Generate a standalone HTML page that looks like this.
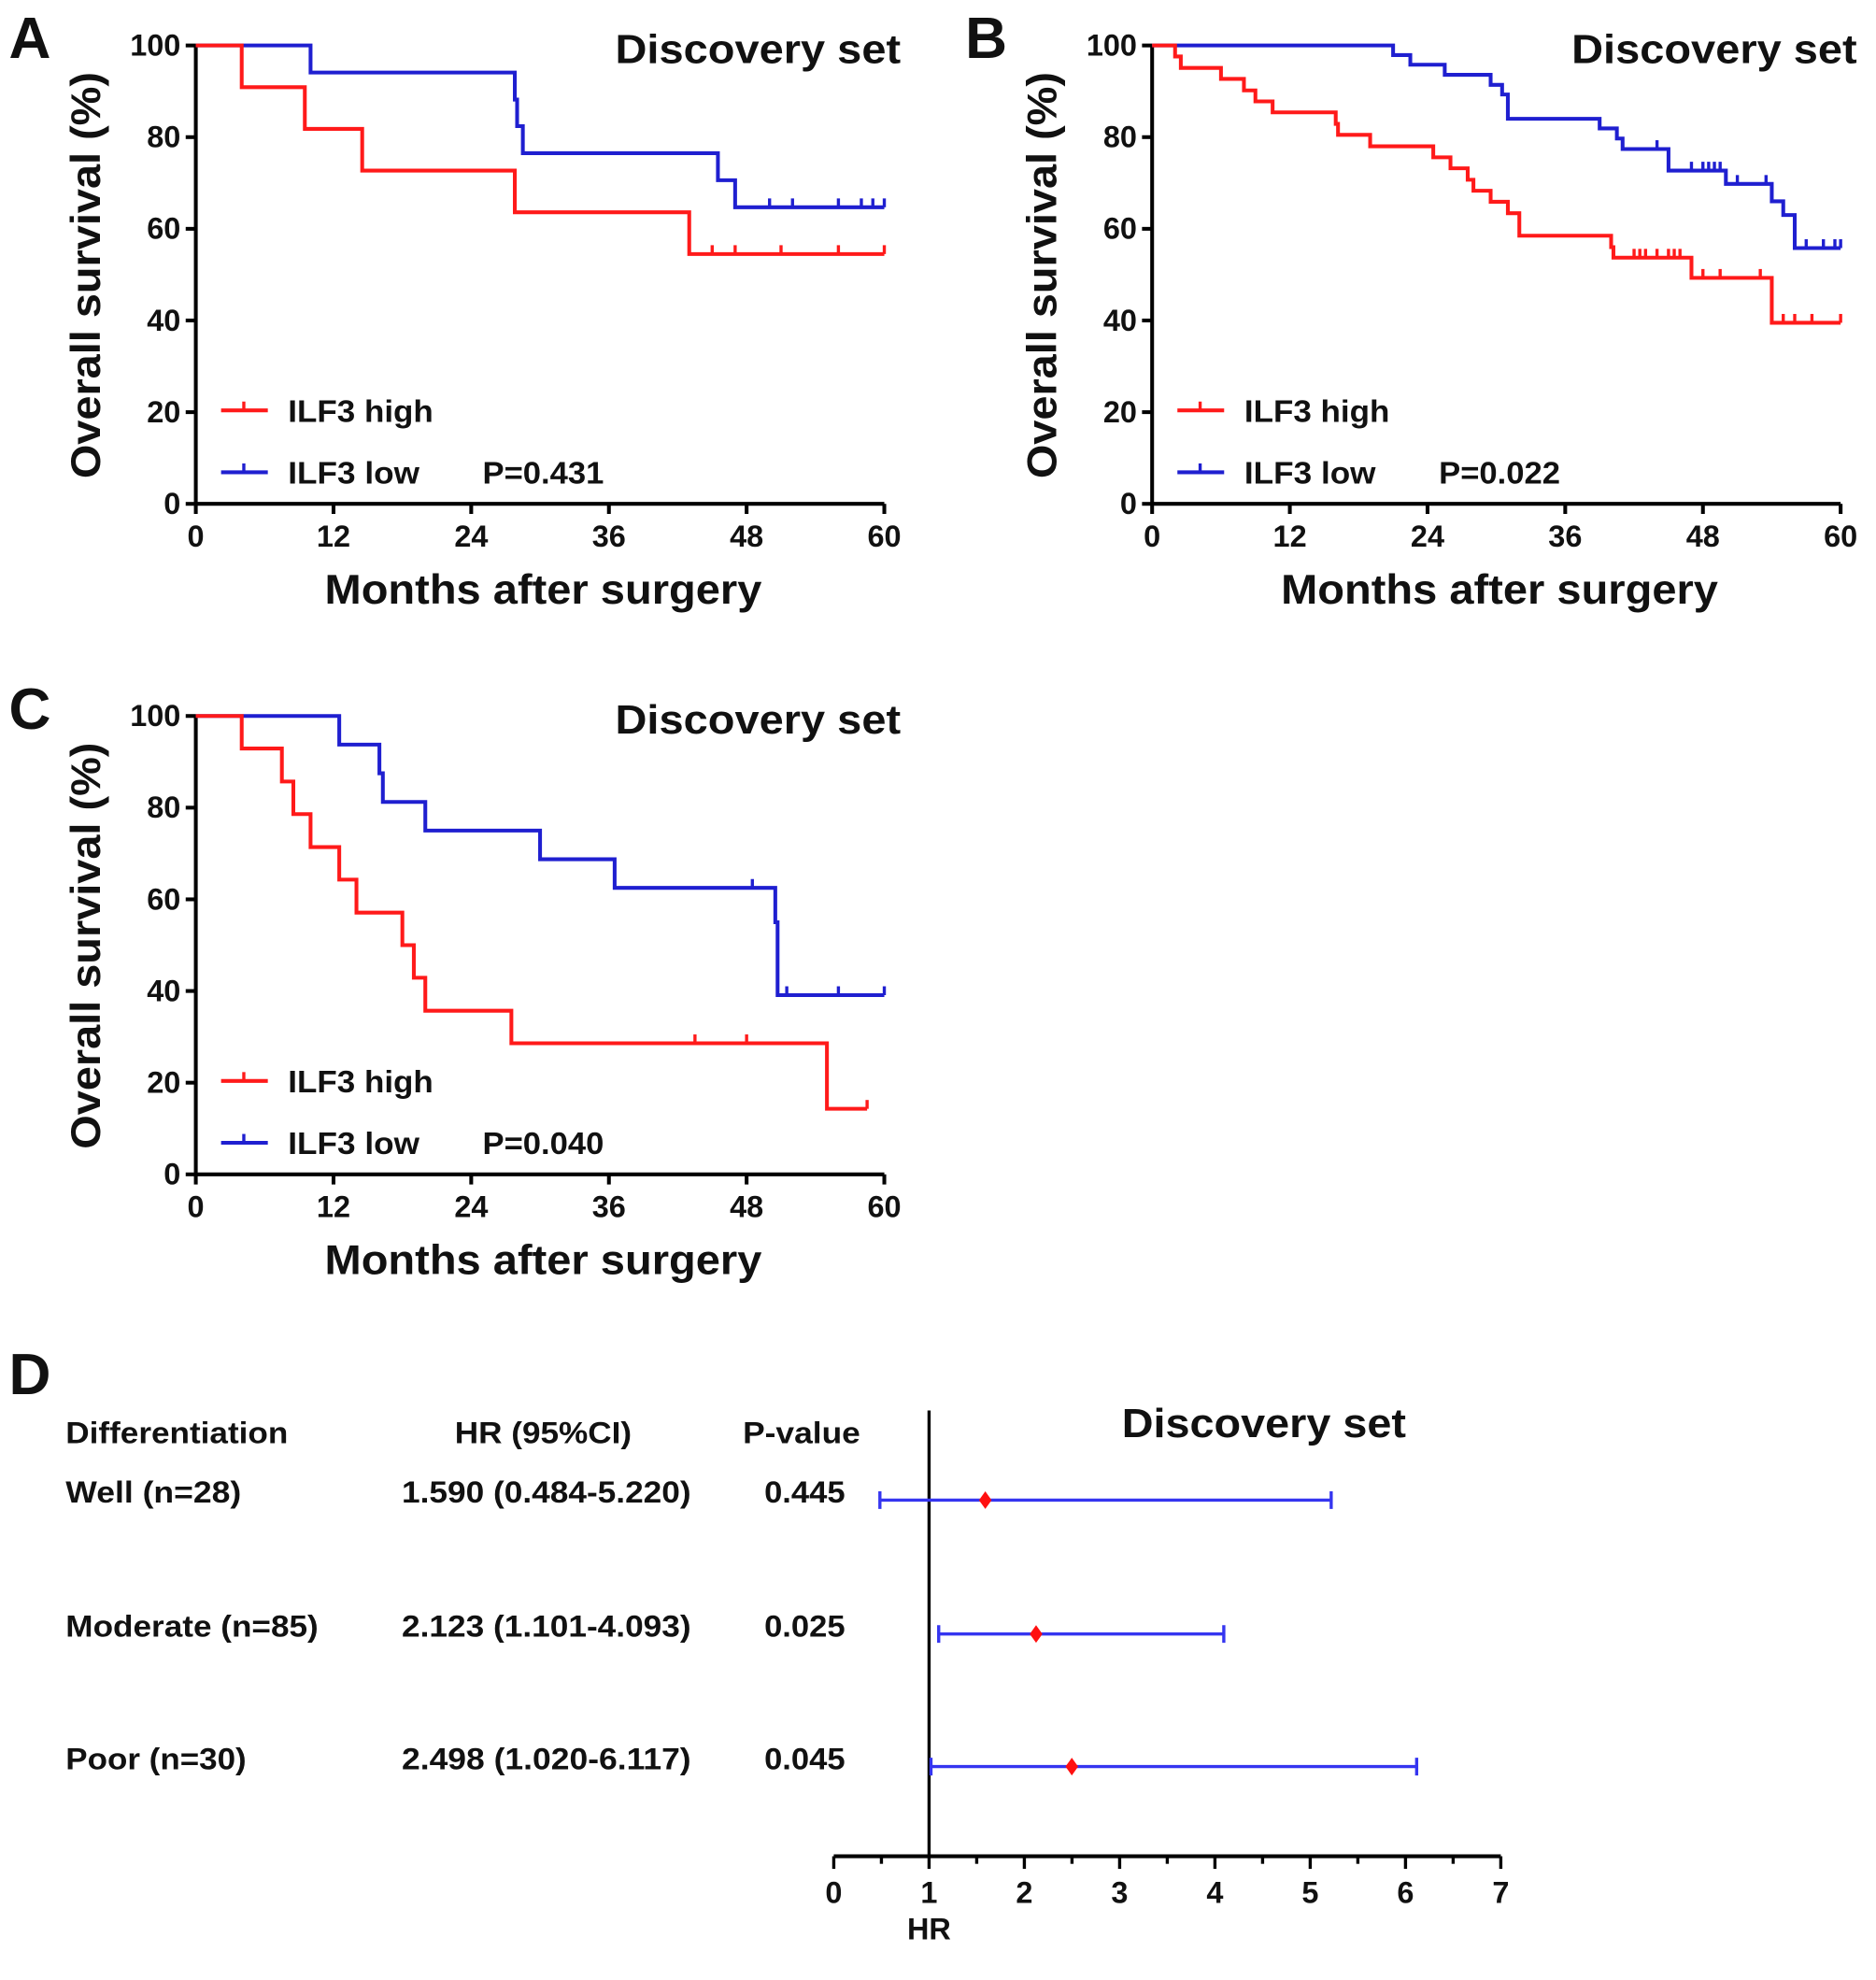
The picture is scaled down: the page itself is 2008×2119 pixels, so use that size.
<!DOCTYPE html>
<html><head><meta charset="utf-8"><style>
html,body{margin:0;padding:0;background:#fff;}
svg{display:block;}
text{font-family:"Liberation Sans",Arial,sans-serif;font-weight:bold;fill:#111;}
</style></head>
<body>
<svg id="fig" xmlns="http://www.w3.org/2000/svg" width="2008" height="2119" viewBox="0 0 1485 1568" preserveAspectRatio="none"></svg>
<script>
// ---------- DATA ----------
const xTicks = [0,12,24,36,48,60];
const yTicks = [0,20,40,60,80,100];
// Panel A
const aHighT = [0,4,9.5,14.5,27.8,43,60];
const aHighS = [100,90.9,81.8,72.7,63.6,54.5,54.5];
const aHighCens = [45,47,51,56,60];
const aLowT = [0,10,27.8,28,28.5,45.5,47,60];
const aLowS = [100,94.1,88.2,82.4,76.5,70.6,64.7,64.7];
const aLowCens = [50,52,56,58,59,60];
// Panel B
const bHighT = [0,2,2.5,6,8,9,10.5,16,16.2,19,24.5,26,27.5,28,29.5,31,32,40,40.2,47,54,60];
const bHighS = [100,97.6,95.1,92.7,90.2,87.8,85.4,82.9,80.5,78,75.6,73.2,70.7,68.3,65.9,63.4,58.5,56,53.7,49.3,39.5,39.5];
const bHighCens = [42,42.5,43,44,45,45.5,46,48,49.5,53,55,56,57.5,60];
const bLowT = [0,21,22.5,25.5,29.5,30.5,31,39,40.5,41,45,50,54,55,56,60];
const bLowS = [100,97.9,95.8,93.6,91.4,89.3,84,81.9,79.7,77.4,72.7,69.8,66,63,55.8,55.8];
const bLowCens = [44,47,48,48.5,49,49.5,50,51,53.5,55,57,58.5,59.5,60];
// Panel C
const cHighT = [0,4,7.5,8.5,10,12.5,14,18,19,20,27.5,55,58.5];
const cHighS = [100,92.9,85.7,78.6,71.4,64.3,57.1,50,42.9,35.7,28.6,14.3,14.3];
const cHighCens = [43.5,48,58.5];
const cLowT = [0,12.5,16,16.3,20,30,36.5,50.5,50.7,60];
const cLowS = [100,93.75,87.5,81.25,75,68.75,62.5,55,39.1,39.1];
const cLowCens = [48.5,51.5,56,60];
const pValues = ["P=0.431","P=0.022","P=0.040"];
// Forest
const groups = ["Well (n=28)","Moderate (n=85)","Poor (n=30)"];
const hrText = ["1.590 (0.484-5.220)","2.123 (1.101-4.093)","2.498 (1.020-6.117)"];
const pText = ["0.445","0.025","0.045"];
const hr = [1.590,2.123,2.498];
const lo = [0.484,1.101,1.020];
const hi = [5.220,4.093,6.117];
const hrTicks = [0,1,2,3,4,5,6,7];

// ---------- HELPERS ----------
const NS="http://www.w3.org/2000/svg";
const svg=document.getElementById('fig');
function el(tag,attrs,parent){const e=document.createElementNS(NS,tag);for(const k in attrs)e.setAttribute(k,attrs[k]);(parent||svg).appendChild(e);return e;}
function txt(x,y,s,size,anchor,len,parent){
  const a={x:x,y:y,'font-size':size,'text-anchor':anchor||'start'};
  if(len){a.textLength=len;a.lengthAdjust='spacingAndGlyphs';}
  const e=el('text',a,parent);e.textContent=s;return e;}

function kmPanel(ox,oy,letter,hT,hS,hC,lT,lS,lC,pv){
  const g=el('g',{});
  
  
  const x0=ox, x1=ox+545, y0=oy+363, y1=oy;
  const X=t=>x0+(t/60)*(x1-x0);
  const Y=s=>y0-(s/100)*(y0-y1);
  const pl=txt(ox-148,oy+10,letter,46,'start',null,g);
  
  
  const ax=el('path',{d:`M${x0},${y1} V${y0} H${x1}`,stroke:'#000','stroke-width':3,fill:'none'},g);
  
  
  yTicks.forEach(v=>{
    el('line',{x1:x0-8,x2:x0,y1:Y(v),y2:Y(v),stroke:'#000','stroke-width':3},g);
    const t=txt(x0-12,Y(v)+8,String(v),24,'end',null,g);
    
    
  });
  xTicks.forEach(v=>{
    el('line',{x1:X(v),x2:X(v),y1:y0,y2:y0+8,stroke:'#000','stroke-width':3},g);
    const t=txt(X(v),y0+34,String(v),24,'middle',null,g);
    
    
  });
  const xt=txt(ox+275,oy+442,'Months after surgery',33,'middle',346,g);
  
  
  const yt=txt(0,0,'Overall survival (%)',33,'middle',322,g);
  yt.setAttribute('transform',`translate(${ox-76},${oy+182}) rotate(-90)`);
  
  
  const ti=txt(ox+558,oy+14,'Discovery set',32,'end',226,g);
  
  
  function curve(T,S,C,color,name){
    let d=`M${X(T[0])},${Y(S[0])}`;
    for(let i=1;i<T.length;i++){d+=` H${X(T[i])} V${Y(S[i])}`;}
    const p=el('path',{d:d,stroke:color,'stroke-width':3,fill:'none'},g);
    
    
    C.forEach(c=>{
      let s=S[0];for(let i=0;i<T.length;i++){if(T[i]<=c)s=S[i];}
      const m=el('line',{x1:X(c),x2:X(c),y1:Y(s)-7,y2:Y(s),stroke:color,'stroke-width':2.5},g);
      
      
    });
  }
  curve(lT,lS,lC,'#1f1fd0','ilf3-low');
  curve(hT,hS,hC,'#ff1a1a','ilf3-high');
  const l1=el('g',{},g);
  
  
  el('line',{x1:ox+20,x2:ox+57,y1:oy+289,y2:oy+289,stroke:'#ff1a1a','stroke-width':3},l1);
  el('line',{x1:ox+38,x2:ox+38,y1:oy+282,y2:oy+289,stroke:'#ff1a1a','stroke-width':2.5},l1);
  txt(ox+73,oy+298,'ILF3 high',25,'start',115,l1);
  const l2=el('g',{},g);
  
  
  el('line',{x1:ox+20,x2:ox+57,y1:oy+338,y2:oy+338,stroke:'#1f1fd0','stroke-width':3},l2);
  el('line',{x1:ox+38,x2:ox+38,y1:oy+331,y2:oy+338,stroke:'#1f1fd0','stroke-width':2.5},l2);
  txt(ox+73,oy+347,'ILF3 low',25,'start',104,l2);
  const pt=txt(ox+227,oy+347,pv,25,'start',96,g);
  
  
}
kmPanel(155,36,'A',aHighT,aHighS,aHighCens,aLowT,aLowS,aLowCens,pValues[0]);
kmPanel(912,36,'B',bHighT,bHighS,bHighCens,bLowT,bLowS,bLowCens,pValues[1]);
kmPanel(155,567,'C',cHighT,cHighS,cHighCens,cLowT,cLowS,cLowCens,pValues[2]);

// ---------- FOREST ----------
(function(){
  const g=el('g',{});
  
  
  const X=v=>660+v*(1188-660)/7;
  const rowY=[1188,1294,1399];
  const pl=txt(7,1104,'D',46,'start',null,g);
  
  
  const h1=txt(52,1143,'Differentiation',24,'start',176,g);
  
  
  const h2=txt(360,1143,'HR (95%CI)',24,'start',140,g);
  
  
  const h3=txt(588,1143,'P-value',24,'start',93,g);
  
  
  const ti=txt(888,1138,'Discovery set',32,'start',225,g);
  
  
  const ax=el('line',{x1:X(0),x2:X(7),y1:1470,y2:1470,stroke:'#000','stroke-width':3},g);
  
  
  for(let v=0;v<=7;v+=0.5){
    el('line',{x1:X(v),x2:X(v),y1:1470,y2:1470+(v%1===0?10:6),stroke:'#000','stroke-width':2.5},g);
  }
  hrTicks.forEach(v=>{
    const t=txt(X(v),1507,String(v),24,'middle',null,g);
    
    
  });
  const xl=txt(X(1),1536,'HR',24,'middle',null,g);
  
  
  const ref=el('line',{x1:X(1),x2:X(1),y1:1117,y2:1470,stroke:'#000','stroke-width':2.5},g);
  
  
  groups.forEach((name,i)=>{
    const y=rowY[i];
    const a=txt(52,y+2,name,24,'start',[139,200,143][i],g);
    
    
    const b=txt(318,y+2,hrText[i],24,'start',229,g);
    
    
    const c=txt(605,y+2,pText[i],24,'start',64,g);
    
    
    const ci=el('path',{d:`M${X(lo[i])},${y-7} V${y+7} M${X(lo[i])},${y} H${X(hi[i])} M${X(hi[i])},${y-7} V${y+7}`,stroke:'#3535f0','stroke-width':2.5,fill:'none'},g);
    
    
    const cx=X(hr[i]);
    const d=el('polygon',{points:`${cx},${y-7} ${cx+5},${y} ${cx},${y+7} ${cx-5},${y}`,fill:'#ff1010'},g);
    
    
  });
})();
</script>
</body></html>
